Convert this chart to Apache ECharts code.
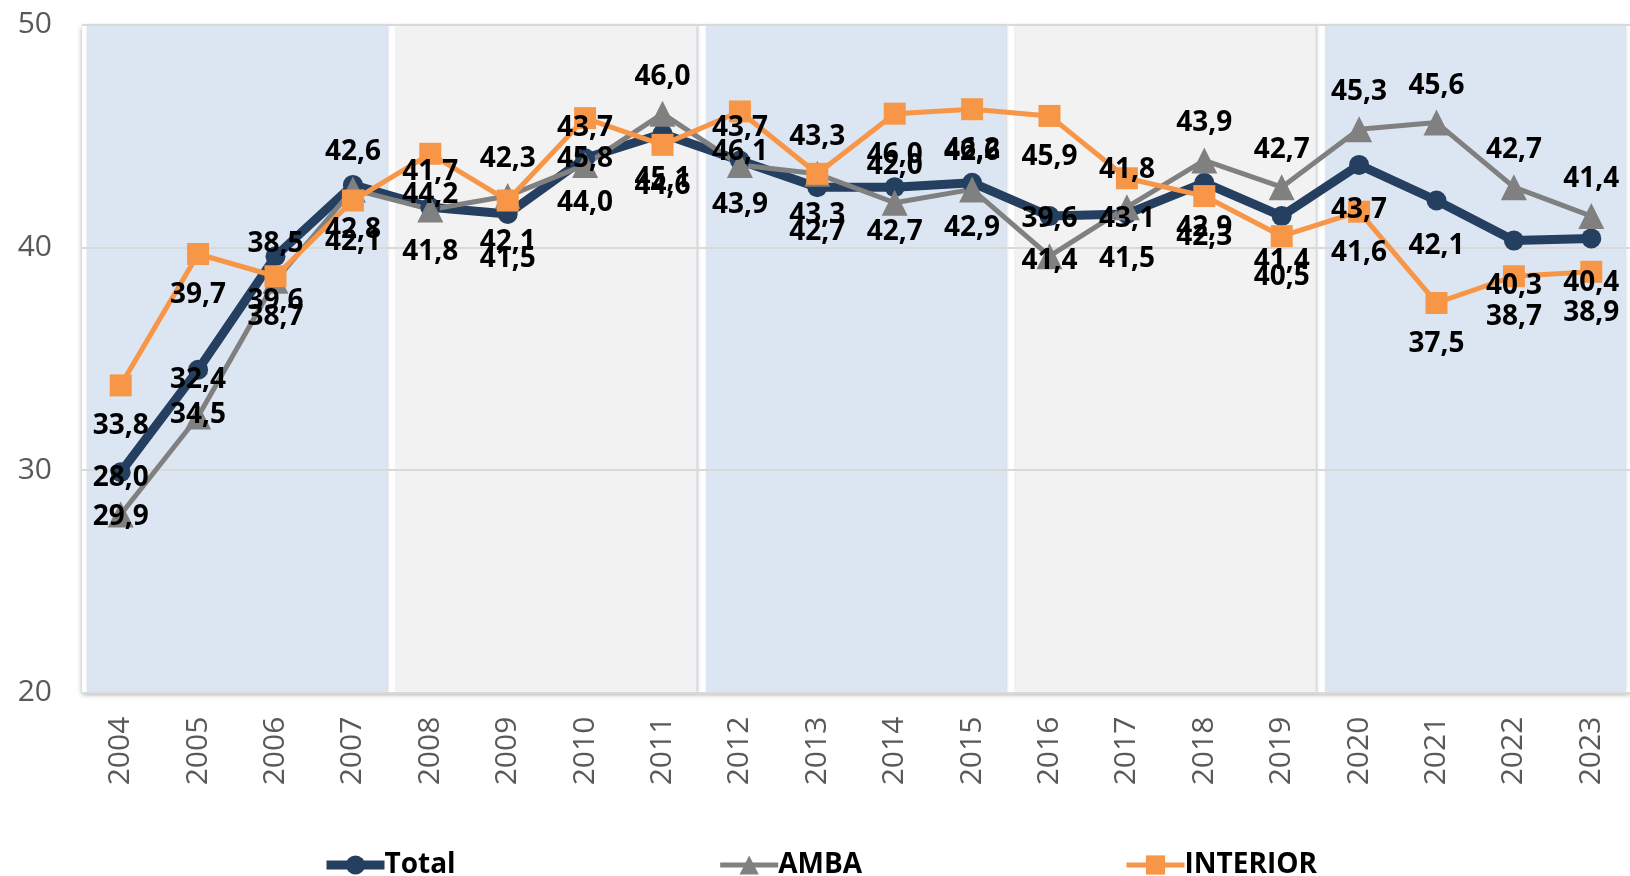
<!DOCTYPE html>
<html>
<head>
<meta charset="utf-8">
<script src="https://cdn.jsdelivr.net/npm/echarts@6/dist/echarts.min.js"></script>
<style>
  html, body { margin: 0; padding: 0; background: #fff; }
  #chart { width: 1630px; height: 876px; }
</style>
</head>
<body>
<div id="chart"></div>
<script>
const years = ['2004', '2005', '2006', '2007', '2008', '2009', '2010', '2011', '2012', '2013',
  '2014', '2015', '2016', '2017', '2018', '2019', '2020', '2021', '2022', '2023']
const total = [29.9, 34.5, 39.6, 42.8, 41.8, 41.5, 44.0, 45.1, 43.9, 42.7,
  42.7, 42.9, 41.4, 41.5, 42.9, 41.4, 43.7, 42.1, 40.3, 40.4]
const amba = [28.0, 32.4, 38.5, 42.6, 41.7, 42.3, 43.7, 46.0, 43.7, 43.3,
  42.0, 42.6, 39.6, 41.8, 43.9, 42.7, 45.3, 45.6, 42.7, 41.4]
const interior = [33.8, 39.7, 38.7, 42.1, 44.2, 42.1, 45.8, 44.6, 46.1, 43.3,
  46.0, 46.2, 45.9, 43.1, 42.3, 40.5, 41.6, 37.5, 38.7, 38.9]

// background bands, one per four-year period
const bandNames = ['2004-2007', '2008-2011', '2012-2015', '2016-2019', '2020-2023']
const bandTop = [50, 50, 50, 50, 50]
const bandColors = ['#dce6f2', '#f2f2f2', '#dce6f2', '#f2f2f2', '#dce6f2']

const fmt = (p) => p.value.toFixed(1).replace('.', ',')
const labelFont = { fontFamily: 'Open Sans', fontSize: 28, fontWeight: 'bold', color: '#000' }

const chart = echarts.init(document.getElementById('chart'))
chart.setOption({
  animation: false,
  textStyle: { fontFamily: 'Open Sans' },
  grid: {
    left: 82, right: -3, top: 24.6, bottom: 183.3,
    show: true, z: -3,
    backgroundColor: '#fff', borderWidth: 0,
    shadowBlur: 5, shadowColor: 'rgba(0, 0, 0, 0.35)', shadowOffsetY: 2
  },
  legend: {
    data: [
      { name: 'Total', lineStyle: { width: 9 } },
      { name: 'AMBA', lineStyle: { width: 5 } },
      { name: 'INTERIOR', lineStyle: { width: 5 } }
    ],
    left: 317, top: 846,
    itemWidth: 58, itemHeight: 24, itemGap: 262,
    textStyle: { fontFamily: 'Open Sans', fontSize: 28, fontWeight: 'bold', color: '#000', padding: [0, 0, 0, -5] }
  },
  xAxis: [
    {
      type: 'category',
      data: years,
      axisLine: { show: false },
      axisTick: { show: false },
      axisLabel: { rotate: 90, margin: 24, fontSize: 30, color: '#595959' }
    },
    {
      type: 'category',
      data: bandNames,
      show: false
    }
  ],
  yAxis: {
    type: 'value',
    min: 20, max: 50, interval: 10,
    axisLine: { show: false },
    axisTick: { show: false },
    axisLabel: { margin: 30, fontSize: 30, color: '#595959' },
    splitLine: { lineStyle: { color: '#d9d9d9', width: 2 } }
  },
  series: [
    {
      name: 'bands',
      type: 'bar',
      xAxisIndex: 1,
      z: -1,
      clip: true,
      barCategoryGap: '3%',
      silent: true,
      data: bandTop.map((v, i) => ({ value: v, itemStyle: { color: bandColors[i] } })),
      itemStyle: { shadowBlur: 3, shadowColor: 'rgba(60, 80, 110, 0.35)', shadowOffsetX: 1 }
    },
    {
      name: 'Total',
      type: 'line',
      data: total,
      symbol: 'circle',
      symbolSize: 20,
      color: '#243f60',
      lineStyle: { color: '#243f60', width: 9 },
      itemStyle: { color: '#243f60' },
      label: { show: true, position: 'bottom', distance: 21, formatter: fmt, ...labelFont }
    },
    {
      name: 'AMBA',
      type: 'line',
      data: amba,
      symbol: 'triangle',
      symbolSize: 26,
      color: '#808080',
      lineStyle: { color: '#808080', width: 5 },
      itemStyle: { color: '#808080' },
      label: { show: true, position: 'top', distance: 10, formatter: fmt, ...labelFont }
    },
    {
      name: 'INTERIOR',
      type: 'line',
      data: interior,
      symbol: 'rect',
      symbolSize: 22,
      color: '#f79646',
      lineStyle: { color: '#f79646', width: 5 },
      itemStyle: { color: '#f79646' },
      label: { show: true, position: 'bottom', distance: 16, formatter: fmt, ...labelFont }
    }
  ]
})
</script>
</body>
</html>
